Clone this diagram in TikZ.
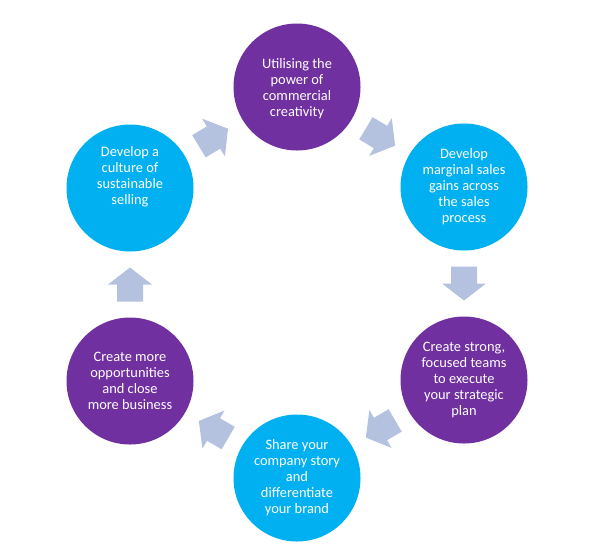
\documentclass[tikz,border=0pt]{standalone}
\usepackage{fontspec}
\setmainfont{Carlito}
\usetikzlibrary{calc}
\definecolor{cpurple}{HTML}{7030A0}
\definecolor{ccyan}{HTML}{00B0F0}
\definecolor{carrow}{HTML}{B4C2E0}
\newcommand\flowarrow[2]{%
  \fill[flowarrow] let \p1=($(#2.center)-(#1.center)$),
                       \p2=($(#1.center)!0.5!(#2.center)$),
                       \n1={atan2(\y1,\x1)} in
    ($(\p2)+(\n1:17pt)$) -- ($(\p2)+(\n1+90:22pt)$) -- ($(\p2)+(\n1+90:13pt)$)
    -- ($(\p2)+(\n1:-17pt)+(\n1+90:13pt)$) -- ($(\p2)+(\n1:-17pt)+(\n1-90:13pt)$)
    -- ($(\p2)+(\n1-90:13pt)$) -- ($(\p2)+(\n1-90:22pt)$) -- cycle;}
\begin{document}
\begin{tikzpicture}[x=1pt,y=-1pt,
  bubbletext/.style={text=white, align=center, inner sep=0pt,
    font=\fontsize{14.4pt}{16pt}\selectfont},
  bubble/.style={circle, minimum size=127pt, inner sep=0pt, fill=#1, bubbletext},
  flowarrow/.style={fill=carrow}]
\useasboundingbox (0,0) rectangle (596,558);
\node[bubble=cpurple] (c1) at (297,87) {\\[-3pt]Utilising the\\power of\\commercial\\creativity};
\node[bubble=ccyan] (c2) at (464,187) {Develop\\marginal sales\\gains across\\the sales\\process};
\node[bubble=cpurple] (c3) at (464,380) {Create strong,\\focused teams\\to execute\\your strategic\\plan};
\node[bubble=ccyan] (c4) at (297,478) {Share your\\company story\\and\\differentiate\\your brand};
\node[bubble=cpurple] (c5) at (130,381) {Create more\\opportunities\\and close\\more business};
\node[bubble=ccyan, label={[bubbletext, yshift=11pt]center:{Develop a\\culture of\\sustainable\\selling}}] (c6) at (130,188) {};
\flowarrow{c1}{c2}
\flowarrow{c2}{c3}
\flowarrow{c3}{c4}
\flowarrow{c4}{c5}
\flowarrow{c5}{c6}
\flowarrow{c6}{c1}
\end{tikzpicture}
\end{document}
